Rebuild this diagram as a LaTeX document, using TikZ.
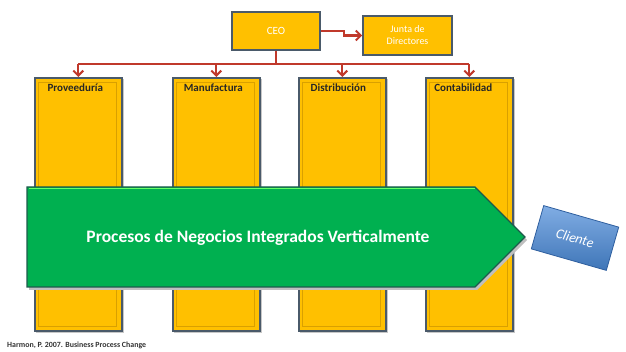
\documentclass[tikz,border=0pt]{standalone}
\usepackage{fontspec}
\setmainfont{Carlito}
\usetikzlibrary{arrows.meta,calc}
\definecolor{gold}{HTML}{FFC000}
\definecolor{golddark}{HTML}{D9A000}
\definecolor{slate}{HTML}{4A5A6A}
\definecolor{conn}{HTML}{C0392B}
\definecolor{procgreen}{HTML}{00B050}
\definecolor{procedge}{HTML}{1D5A4C}
\definecolor{cliblue}{HTML}{4A8AD8}
\definecolor{cliedge}{HTML}{2F5F9F}
\tikzset{
  orgbox/.style={draw=slate, fill=gold, line width=1.6pt, inner sep=2pt},
  colbox/.style={draw=slate, fill=gold, line width=1.6pt, minimum width=87pt, minimum height=253pt, anchor=north west, inner sep=0pt},
  collabel/.style={font=\bfseries\fontsize{11}{12}\selectfont, text=black!85, anchor=center, inner sep=0pt},
  redline/.style={draw=conn, line width=2.2pt},
  tip/.style={-{Straight Barb[length=5pt,width=10pt,line width=2pt]}},
  shadowbox/.style={fill=black!22, draw=none}
}
\begin{document}
\begin{tikzpicture}[x=1pt,y=-1pt]
\useasboundingbox (0,0) rectangle (626,352);
% columns
\foreach \nm/\x in {prov/34,manu/172,dist/298,cont/425}{
  \fill[shadowbox] (\x+2,79) rectangle (\x+90,333);
  \node[colbox] (\nm) at (\x,77) {};
  \draw[golddark, line width=0.9pt] ($(\nm.north west)+(4,5)$) rectangle ($(\nm.south east)+(-6,-5)$);
}
\node[collabel] (lprov) at ($(prov.north)+(-3,11)$) {Proveeduría};
\node[collabel] (lmanu) at ($(manu.north)+(-3,11)$) {Manufactura};
\node[collabel] (ldist) at ($(dist.north)+(-4,11)$) {Distribución};
\node[collabel] (lcont) at ($(cont.north)+(-6,11)$) {Contabilidad};
% CEO and board
\node[orgbox, minimum width=88pt, minimum height=38pt, text=white, font=\fontsize{11}{12}\selectfont] (ceo) at (276,31) {CEO};
\node[orgbox, minimum width=89pt, minimum height=39pt, text=white, align=center, font=\fontsize{10}{12}\selectfont] (junta) at (407.5,35.5) {Junta de\\Directores};
% connectors
\draw[redline, tip] (ceo.east) -- ++(23,0) |- (junta.west);
\draw[redline] (ceo.south) -- ++(0,13) coordinate (bus);
\draw[redline] (bus -| prov.north) -- (bus -| cont.north);
\foreach \nm in {prov,manu,dist,cont}{
  \draw[redline, tip] (bus -| \nm.north) -- (\nm.north);
}
% process arrow
\fill[black!25] (29,190) -- (477,190) -- (527,240) -- (477,290) -- (29,290) -- cycle;
\draw[fill=procgreen, draw=procedge, line width=1.4pt] (27,187) -- (475,187) -- (525,237) -- (475,287) -- (27,287) -- cycle;
\draw[green!60!white, line width=1.2pt] (28.8,188.8) -- (474.5,188.8);
\node[text=white, font=\bfseries\fontsize{17.5}{19}\selectfont] (proc) at (258,238) {Procesos de Negocios Integrados Verticalmente};
% client
\node[rotate=-16, minimum width=78pt, minimum height=45pt, top color=cliblue!70!white, bottom color=cliblue!85!black, draw=cliedge, line width=0.8pt, text=white, font=\itshape\fontsize{14}{16}\selectfont] (cli) at (575,238) {Cliente};
% citation
\node[anchor=west, inner sep=0pt, text=black!80, font=\bfseries\fontsize{7.9}{9}\selectfont] (cite) at (7,345) {Harmon, P. 2007. Business Process Change};
\end{tikzpicture}
\end{document}
